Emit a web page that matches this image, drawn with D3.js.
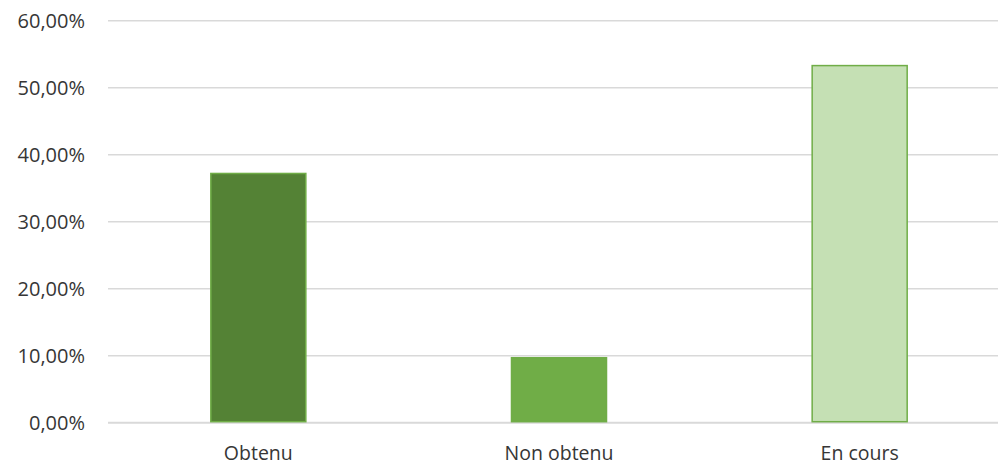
<!DOCTYPE html>
<html>
<head>
<meta charset="utf-8">
<script src="https://cdn.jsdelivr.net/npm/d3@7"></script>
<style>
  body { margin: 0; background: #fff; }
  svg { display: block; }
</style>
</head>
<body>
<svg width="998" height="466"></svg>
<script>
// data
const categories = ["Obtenu", "Non obtenu", "En cours"]
const values = [0.372, 0.097, 0.533]
const fills = ["#548235", "#70ad47", "#c5e0b4"]
const yTicks = [0, 0.1, 0.2, 0.3, 0.4, 0.5, 0.6]

const width = 998, height = 466
const plotTop = 20.7, plotBottom = 422.7, plotLeft = 108, plotRight = 1010

const svg = d3.select("svg")
   .attr("font-family", "'Open Sans', sans-serif")

const x = d3.scaleBand()
   .domain(categories)
   .range([plotLeft, plotRight])
   .paddingInner(0.684)
   .paddingOuter(0.342)

const y = d3.scaleLinear()
   .domain([0, 0.6])
   .range([plotBottom, plotTop])

const fmt = d => d3.format(".2%")(d).replace(".", ",")

// grid
svg.append("g")
   .selectAll("line")
   .data(yTicks)
   .join("line")
   .attr("x1", plotLeft)
   .attr("x2", plotRight)
   .attr("y1", d => y(d))
   .attr("y2", d => y(d))
   .attr("stroke", "#d9d9d9")
   .attr("stroke-width", d => d === 0 ? 2 : 1.5)

// y labels
svg.append("g")
   .selectAll("text")
   .data(yTicks)
   .join("text")
   .attr("x", 85)
   .attr("y", d => y(d))
   .attr("dy", "0.35em")
   .attr("text-anchor", "end")
   .attr("font-size", "20px")
   .attr("fill", "#363636")
   .text(fmt)

// bars
svg.append("g")
   .selectAll("rect")
   .data(values)
   .join("rect")
   .attr("x", (d, i) => x(categories[i]))
   .attr("width", x.bandwidth())
   .attr("y", d => y(d))
   .attr("height", d => y(0) - y(d) - 1)
   .attr("fill", (d, i) => fills[i])
   .attr("stroke", "#70ad47")
   .attr("stroke-width", 1.5)

// x labels
svg.append("g")
   .selectAll("text")
   .data(categories)
   .join("text")
   .attr("x", d => x(d) + x.bandwidth() / 2)
   .attr("y", 460)
   .attr("text-anchor", "middle")
   .attr("font-size", "19.5px")
   .attr("fill", "#363636")
   .text(d => d)
</script>
</body>
</html>
